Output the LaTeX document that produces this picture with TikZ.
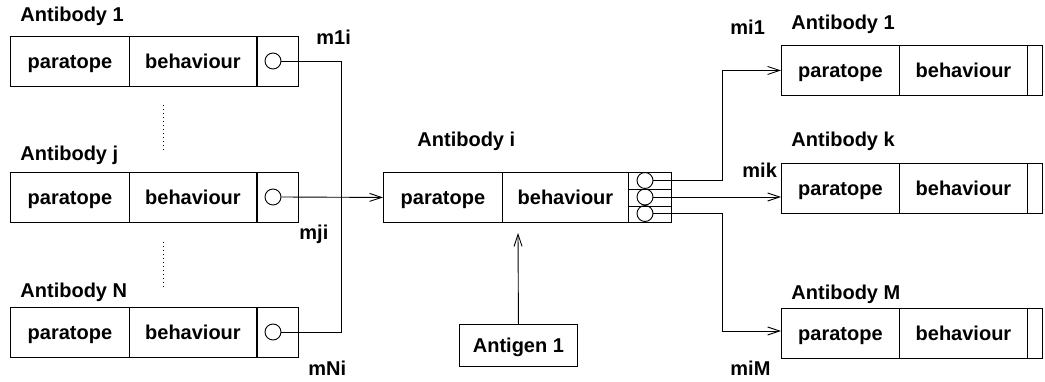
\documentclass[tikz,border=0pt]{standalone}
\usepackage{fontspec}
\setmainfont{Liberation Sans}
\usetikzlibrary{arrows.meta}
\begin{document}
\begin{tikzpicture}[x=1pt,y=-1pt,
  font=\fontsize{20}{24}\selectfont\bfseries,
  line width=0.9pt,
  cell/.style={draw, rectangle, inner sep=0pt, anchor=north west, minimum height=50, text height=15pt, text depth=1pt},
  pcell/.style={cell, minimum width=119},
  bcell/.style={cell, minimum width=127},
  scell/.style={cell, minimum width=42},
  port/.style={draw, circle, inner sep=0pt, minimum size=16},
  lbl/.style={anchor=base west, inner sep=0pt},
  arr/.style={-{Straight Barb[length=12pt,width=8pt]}},
  dots/.style={dash pattern=on 1pt off 3pt}]
\useasboundingbox (0,0) rectangle (1045,382);

% left antibody 1
\node[pcell] (l1p) at (10,36) {paratope};
\node[bcell] (l1b) at (129,36) {behaviour};
\node[scell, minimum width=41] (l1s) at (257,36) {};
\node[port] (c1) at (273,61) {};
\node[lbl] (l1t) at (20,22) {Antibody 1};
% left antibody j
\node[pcell] (ljp) at (10,172) {paratope};
\node[bcell] (ljb) at (129,172) {behaviour};
\node[scell, minimum width=41] (ljs) at (257,172) {};
\node[port] (cj) at (273,197) {};
\node[lbl] (ljt) at (20,161) {Antibody j};
% left antibody N
\node[pcell] (lNp) at (10,307) {paratope};
\node[bcell] (lNb) at (129,307) {behaviour};
\node[scell, minimum width=41] (lNs) at (257,307) {};
\node[port] (cN) at (273,332) {};
\node[lbl] (lNt) at (20,298) {Antibody N};

\draw[dots] (163,105) -- (163,153);
\draw[dots] (163,242) -- (163,290);

% middle antibody i
\node[pcell] (mp) at (383,172) {paratope};
\node[bcell, minimum width=126] (mb) at (502,172) {behaviour};
\node[scell, minimum width=43] (ms) at (628,172) {};
\draw (ms.north west |- 0,189) -- (ms.north east |- 0,189);
\draw (ms.north west |- 0,206) -- (ms.north east |- 0,206);
\node[port] (ci1) at (645,180.5) {};
\node[port] (ci2) at (645,197) {};
\node[port] (ci3) at (645,213.5) {};
\node[lbl] (mt) at (417,147) {Antibody i};

% right antibodies
\node[pcell, minimum width=118] (r1p) at (781,45) {paratope};
\node[bcell, minimum width=128] (r1b) at (899,45) {behaviour};
\node[cell, minimum width=15] (r1s) at (1027,45) {};
\node[lbl] (r1t) at (791,30) {Antibody 1};

\node[pcell, minimum width=118] (rkp) at (781,163) {paratope};
\node[bcell, minimum width=128] (rkb) at (899,163) {behaviour};
\node[cell, minimum width=15] (rks) at (1027,163) {};
\node[lbl] (rkt) at (791,147) {Antibody k};

\node[pcell, minimum width=118] (rMp) at (781,308) {paratope};
\node[bcell, minimum width=128] (rMb) at (899,308) {behaviour};
\node[cell, minimum width=15] (rMs) at (1027,308) {};
\node[lbl] (rMt) at (791,300) {Antibody M};

% antigen
\node[draw, rectangle, inner sep=0pt, minimum width=118, minimum height=42, text height=15pt, text depth=1pt, anchor=north west] (ag) at (459,324) {Antigen 1};
\coordinate (agt) at (518,233);
\draw[arr] (ag.north) -- (agt);

% bus lines
\coordinate (busL) at (341,0);
\coordinate (busR) at (722,0);
\draw (c1.east) -- (c1.east -| busL) -- (cN.east -| busL) -- (cN.east);
\draw[arr] (cj.east) -- (mp.west);
\draw[arr] (ci1.east) -- (ci1.east -| busR) |- (r1p.west);
\draw[arr] (ci2.east) -- (rkp.west |- ci2.east);
\draw[arr] (ci3.east) -- (ci3.east -| busR) |- (rMp.west |- 0,331);

% message labels
\node[lbl] (m1i) at (316,45) {m1i};
\node[lbl] (mji) at (299,240) {mji};
\node[lbl] (mNi) at (308,375) {mNi};
\node[lbl] (mi1) at (730,35) {mi1};
\node[lbl] (mik) at (742,178) {mik};
\node[lbl] (miM) at (730,375) {miM};
\end{tikzpicture}
\end{document}
